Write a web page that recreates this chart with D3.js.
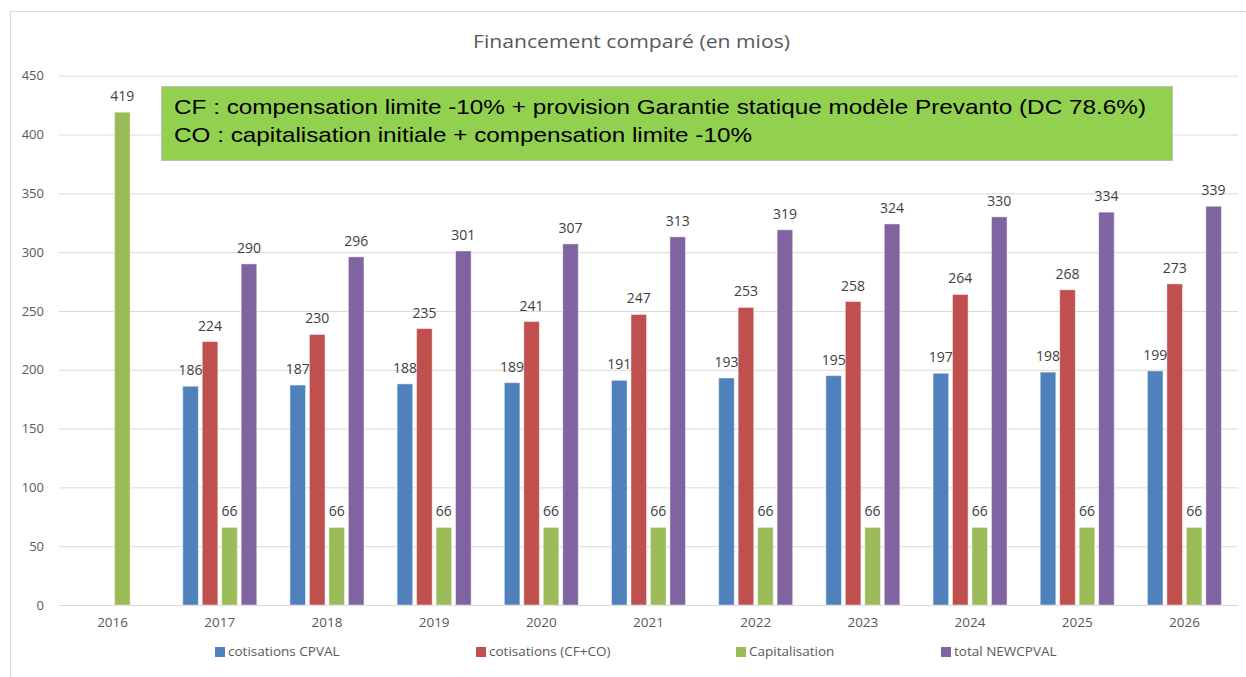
<!DOCTYPE html>
<html>
<head>
<meta charset="utf-8">
<script src="https://cdn.jsdelivr.net/npm/d3@7"></script>
<style>
  html, body { margin: 0; padding: 0; background: #fff; }
  svg { display: block; }
</style>
</head>
<body>
<svg id="chart" width="1246" height="677"></svg>
<script>
// Years on the category axis
const years = ["2016","2017","2018","2019","2020","2021","2022","2023","2024","2025","2026"];

// Series values (millions); null where no bar is drawn
const cotisationsCPVAL = [null,186,187,188,189,191,193,195,197,198,199];
const cotisationsCFCO  = [null,224,230,235,241,247,253,258,264,268,273];
const capitalisation   = [419,66,66,66,66,66,66,66,66,66,66];
const totalNEWCPVAL    = [null,290,296,301,307,313,319,324,330,334,339];

const seriesNames  = ["cotisations CPVAL","cotisations (CF+CO)","Capitalisation","total NEWCPVAL"];
const seriesColors = ["#4F81BD","#C0504D","#9BBB59","#8064A2"];
const seriesValues = [cotisationsCPVAL, cotisationsCFCO, capitalisation, totalNEWCPVAL];

const yTicks = [0,50,100,150,200,250,300,350,400,450];

const titleText = "Financement comparé (en mios)";
const noteLines = [
  "CF : compensation limite -10% + provision Garantie statique modèle Prevanto (DC 78.6%)",
  "CO : capitalisation initiale + compensation limite -10%"
];

const svg = d3.select("#chart");
const W = 1246, H = 677;
const plot = { left: 59, right: 1238, top: 75.7, bottom: 605 };

// Outer chart frame
svg.append("rect")
  .attr("x", 10.5).attr("y", 11.5)
  .attr("width", W + 20).attr("height", H + 20)
  .attr("fill", "#fff").attr("stroke", "#d9d9d9").attr("stroke-width", 1);

const y = d3.scaleLinear().domain([0, 450]).range([plot.bottom, plot.top]);
const x0 = d3.scaleBand().domain(years).range([plot.left, plot.right]).padding(0);
const groupW = 74;
const x1 = d3.scaleBand().domain(seriesNames).range([0, groupW]).paddingInner(0.2).paddingOuter(0);
const groupOffset = (x0.bandwidth() - groupW) / 2;

const labelFont = "'Open Sans', 'DejaVu Sans', sans-serif";

// Gridlines + y axis labels
const yAxis = d3.axisLeft(y).tickValues(yTicks).tickSize(-(plot.right - plot.left)).tickPadding(15);
const gy = svg.append("g").attr("transform", `translate(${plot.left},0)`).call(yAxis);
gy.select(".domain").remove();
gy.selectAll(".tick line").attr("stroke", "#d9d9d9").attr("stroke-width", 1);
gy.selectAll(".tick text")
  .attr("fill", "#595959").attr("font-size", 13).attr("font-family", labelFont);

// Category axis
const xAxis = d3.axisBottom(x0).tickSize(0).tickPadding(12);
const gx = svg.append("g").attr("transform", `translate(0,${plot.bottom})`).call(xAxis);
gx.select(".domain").attr("stroke", "#d9d9d9");
gx.selectAll(".tick text")
  .attr("fill", "#595959").attr("font-size", 13.5).attr("font-family", labelFont);

// Bars
const barData = [];
years.forEach((yr, i) => {
  seriesNames.forEach((s, k) => {
    const v = seriesValues[k][i];
    if (v !== null) barData.push({ year: yr, series: s, value: v, color: seriesColors[k] });
  });
});

const bars = svg.append("g");
bars.selectAll("rect").data(barData).join("rect")
  .attr("x", d => x0(d.year) + groupOffset + x1(d.series))
  .attr("y", d => y(d.value))
  .attr("width", x1.bandwidth())
  .attr("height", d => y(0) - y(d.value))
  .attr("fill", d => d.color)
  .attr("stroke", "#ffffff").attr("stroke-opacity", 0.45).attr("stroke-width", 1);

// Value labels
svg.append("g").selectAll("text").data(barData).join("text")
  .attr("x", d => x0(d.year) + groupOffset + x1(d.series) + x1.bandwidth() / 2)
  .attr("y", d => y(d.value) - 11)
  .attr("text-anchor", "middle")
  .attr("fill", "#404040").attr("font-size", 14).attr("font-family", labelFont)
  .text(d => d.value);

// Title
svg.append("text")
  .attr("x", 473).attr("y", 48)
  .attr("textLength", 317).attr("lengthAdjust", "spacingAndGlyphs")
  .attr("fill", "#595959").attr("font-size", 19).attr("font-family", labelFont)
  .text(titleText);

// Note box
const noteWidths = [972, 578];
const note = svg.append("g");
note.append("rect")
  .attr("x", 161.5).attr("y", 86.5).attr("width", 1011).attr("height", 74)
  .attr("fill", "#92D050").attr("stroke", "#bfbfbf").attr("stroke-width", 1);
note.selectAll("text").data(noteLines).join("text")
  .attr("x", 174).attr("y", (d, i) => 114 + i * 28)
  .attr("textLength", (d, i) => noteWidths[i]).attr("lengthAdjust", "spacingAndGlyphs")
  .attr("fill", "#000").attr("font-size", 21)
  .attr("font-family", "'Liberation Sans', Arial, sans-serif")
  .text(d => d);

// Legend
const legendX = [215, 476, 736, 941];
const legend = svg.append("g");
seriesNames.forEach((s, k) => {
  legend.append("rect")
    .attr("x", legendX[k]).attr("y", 647).attr("width", 10).attr("height", 10)
    .attr("fill", seriesColors[k]);
  legend.append("text")
    .attr("x", legendX[k] + 13).attr("y", 656)
    .attr("fill", "#595959").attr("font-size", 13.5).attr("font-family", labelFont)
    .text(s);
});
</script>
</body>
</html>
